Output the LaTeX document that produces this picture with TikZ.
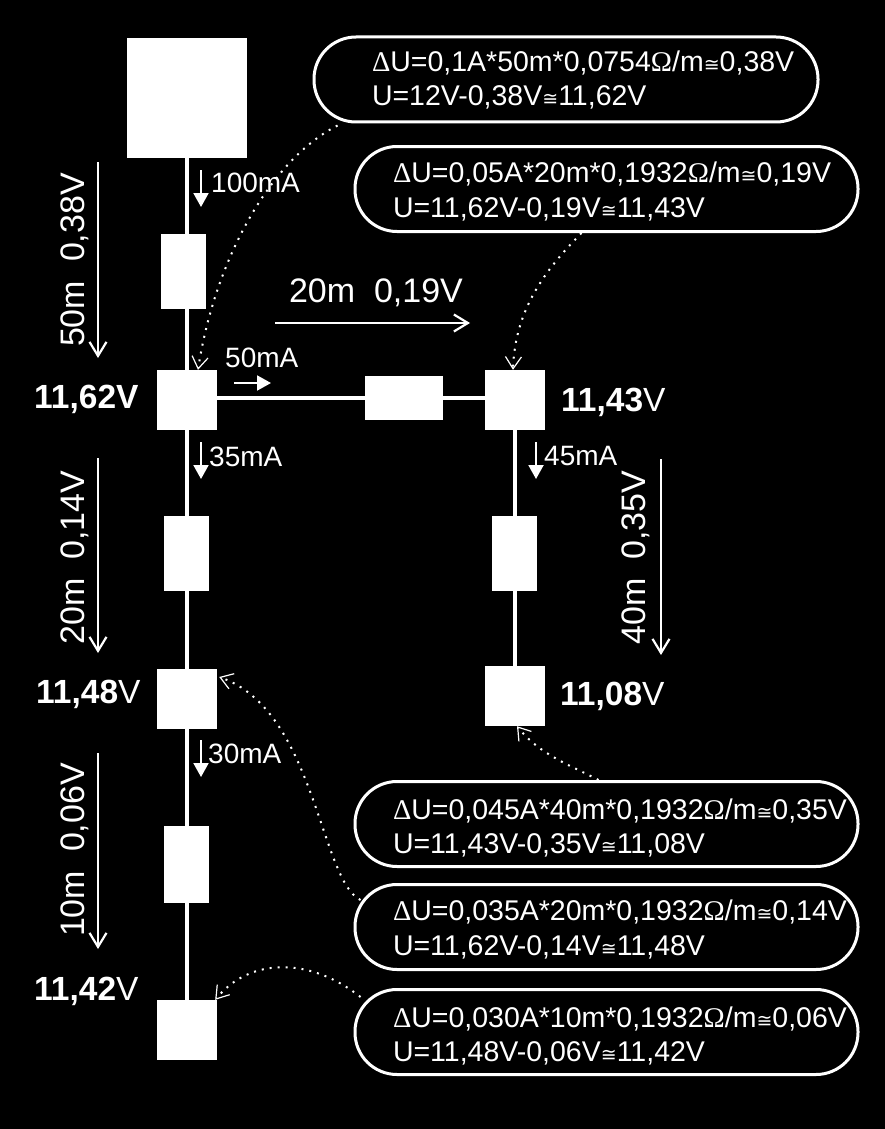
\documentclass[tikz,border=0pt]{standalone}
\usepackage{fontspec}
\setmainfont{Liberation Sans}
\newfontfamily\symf{Liberation Serif}
\newfontfamily\dejaf{DejaVu Sans}
\usetikzlibrary{arrows.meta,calc}
\newcommand{\dU}{\rule{0pt}{26pt}{\symf\char"0394}U}
\newcommand{\dUa}{\rule{0pt}{22pt}{\symf\char"0394}U}
\newcommand{\dUb}{\rule{0pt}{29pt}{\symf\char"0394}U}
\newcommand{\Om}{{\symf\char"03A9}}
\newcommand{\apx}{{\dejaf\fontsize{19}{19}\selectfont\char"2245}}
\tikzset{
  box/.style={fill=white,draw=none,inner sep=0pt,minimum width=#1},
  pill/.style={draw=white,line width=3pt,rounded corners=42pt,minimum width=503pt,minimum height=85pt,
     text=white,align=left,text width=427pt,inner xsep=38pt,inner ysep=0pt,
     font=\fontsize{28.5}{34.5}\selectfont},
  wire/.style={draw=white,line width=4pt},
  len/.style={text=white,font=\fontsize{34}{38}\selectfont,inner sep=0pt},
  cur/.style={text=white,font=\fontsize{28}{30}\selectfont,inner sep=0pt,anchor=base west},
  volt/.style={text=white,font=\fontsize{33.5}{38}\selectfont,inner sep=0pt,anchor=base west},
  larrow/.style={draw=white,line width=2.5pt,-{Straight Barb[length=14pt,width=17pt,line width=2.2pt]}},
  carrow/.style={draw=white,line width=2pt,-{Triangle[length=14pt,width=15pt]}},
  dots/.style={draw=white,line width=2pt,dash pattern=on 2pt off 6pt,-{Straight Barb[length=12pt,width=16pt,line width=1.2pt]}},
}
\begin{document}
\begin{tikzpicture}[x=1pt,y=-1pt]
\path[use as bounding box,fill=black] (0,0) rectangle (885,1129);
% boxes
\node[box=120pt,minimum height=120pt] (src) at (187,98) {};
\node[box=45pt,minimum height=75pt] (r1) at (183.5,271) {};
\node[box=60pt,minimum height=60pt] (j1) at (187,400) {};
\node[box=78pt,minimum height=44pt] (rh) at (404,398) {};
\node[box=60pt,minimum height=60pt] (j2) at (515,400) {};
\node[box=45pt,minimum height=75pt] (r2) at (186.5,553.5) {};
\node[box=60pt,minimum height=60pt] (j3) at (187,699) {};
\node[box=45pt,minimum height=77pt] (r3) at (186.5,864.5) {};
\node[box=60pt,minimum height=60pt] (j4) at (187,1030) {};
\node[box=45pt,minimum height=75pt] (rr) at (514.5,553.5) {};
\node[box=60pt,minimum height=60pt] (jr) at (515,696) {};
% wires
\draw[wire] (src) -- (j1);
\draw[wire] (j1) -- (j3);
\draw[wire] (j3) -- (j4);
\draw[wire] (j1.east |- rh) -- (rh);
\draw[wire] (rh) -- (rh -| j2.west);
\draw[wire] (j2) -- (jr);
% pills
\node[pill,minimum width=504pt,text width=388pt,inner xsep=58pt] (p1) at (566,79.5) {\dUa=0,1A*50m*0,0754\Om/m\apx0,38V\\U=12V-0,38V\apx11,62V};
\node[pill] (p2) at (606.5,189) {\dU=0,05A*20m*0,1932\Om/m\apx0,19V\\U=11,62V-0,19V\apx11,43V};
\node[pill] (p3) at (606.5,824) {\dUb=0,045A*40m*0,1932\Om/m\apx0,35V\\U=11,43V-0,35V\apx11,08V};
\node[pill] (p4) at (606.5,927) {\dU=0,035A*20m*0,1932\Om/m\apx0,14V\\U=11,62V-0,14V\apx11,48V};
\node[pill] (p5) at (606.5,1032) {\dUb=0,030A*10m*0,1932\Om/m\apx0,06V\\U=11,48V-0,06V\apx11,42V};
% dotted connectors
\draw[dots] ([xshift=25pt,yshift=-2pt]p1.south west) .. controls (270,160) and (215,260) .. ([xshift=11pt]j1.north);
\draw[dots] ([xshift=228pt]p2.south west) .. controls (545,270) and (515,310) .. ([xshift=-2pt]j2.north);
\draw[dots] ([xshift=245pt]p3.north west) .. controls (570,765) and (540,755) .. ([xshift=2pt]jr.south);
\draw[dots] ([xshift=7pt,yshift=-17pt]p4.north west) .. controls (320,880) and (315,710) .. ([xshift=2pt,yshift=22pt]j3.east);
\draw[dots] ([xshift=7pt,yshift=-9pt]p5.north west) .. controls (310,957) and (250,957) .. ([xshift=-2pt]j4.north east);
% length arrows
\coordinate (a1s) at (98,162); \coordinate (a1e) at (98,358);
\coordinate (a2s) at (275,323); \coordinate (a2e) at (470,323);
\coordinate (a3s) at (98,458); \coordinate (a3e) at (98,653);
\coordinate (a4s) at (98,753); \coordinate (a4e) at (98,949);
\coordinate (a5s) at (661,459); \coordinate (a5e) at (661,655);
\draw[larrow] (a1s) -- (a1e);
\draw[larrow] (a2s) -- (a2e);
\draw[larrow] (a3s) -- (a3e);
\draw[larrow] (a4s) -- (a4e);
\draw[larrow] (a5s) -- (a5e);
\node[len,rotate=90] (l1) at (75,260) {50m\ \ 0,38V};
\node[len] (l2) at (376,293) {20m\ \ 0,19V};
\node[len,rotate=90] (l3) at (75,557.5) {20m\ \ 0,14V};
\node[len,rotate=90] (l4) at (75,850) {10m\ \ 0,06V};
\node[len,rotate=90] (l5) at (636,557.5) {40m\ \ 0,35V};
% current arrows
\coordinate (c1s) at (201,170); \coordinate (c1e) at (201,207);
\coordinate (c2s) at (234,383); \coordinate (c2e) at (271,383);
\coordinate (c3s) at (201,442); \coordinate (c3e) at (201,479);
\coordinate (c4s) at (536,442); \coordinate (c4e) at (536,479);
\coordinate (c5s) at (201,740); \coordinate (c5e) at (201,777);
\draw[carrow] (c1s) -- (c1e);
\draw[carrow] (c2s) -- (c2e);
\draw[carrow] (c3s) -- (c3e);
\draw[carrow] (c4s) -- (c4e);
\draw[carrow] (c5s) -- (c5e);
\node[cur] (i1) at (211,192) {100mA};
\node[cur] (i2) at (225,367) {50mA};
\node[cur] (i3) at (209,466) {35mA};
\node[cur] (i4) at (544,465) {45mA};
\node[cur] (i5) at (208,763) {30mA};
% voltages
\node[volt] (v1) at (34,408) {\textbf{11,62V}};
\node[volt] (v2) at (561,411) {\textbf{11,43}V};
\node[volt] (v3) at (36,703) {\textbf{11,48}V};
\node[volt] (v4) at (560,705) {\textbf{11,08}V};
\node[volt] (v5) at (34,1000) {\textbf{11,42}V};
\end{tikzpicture}
\end{document}
